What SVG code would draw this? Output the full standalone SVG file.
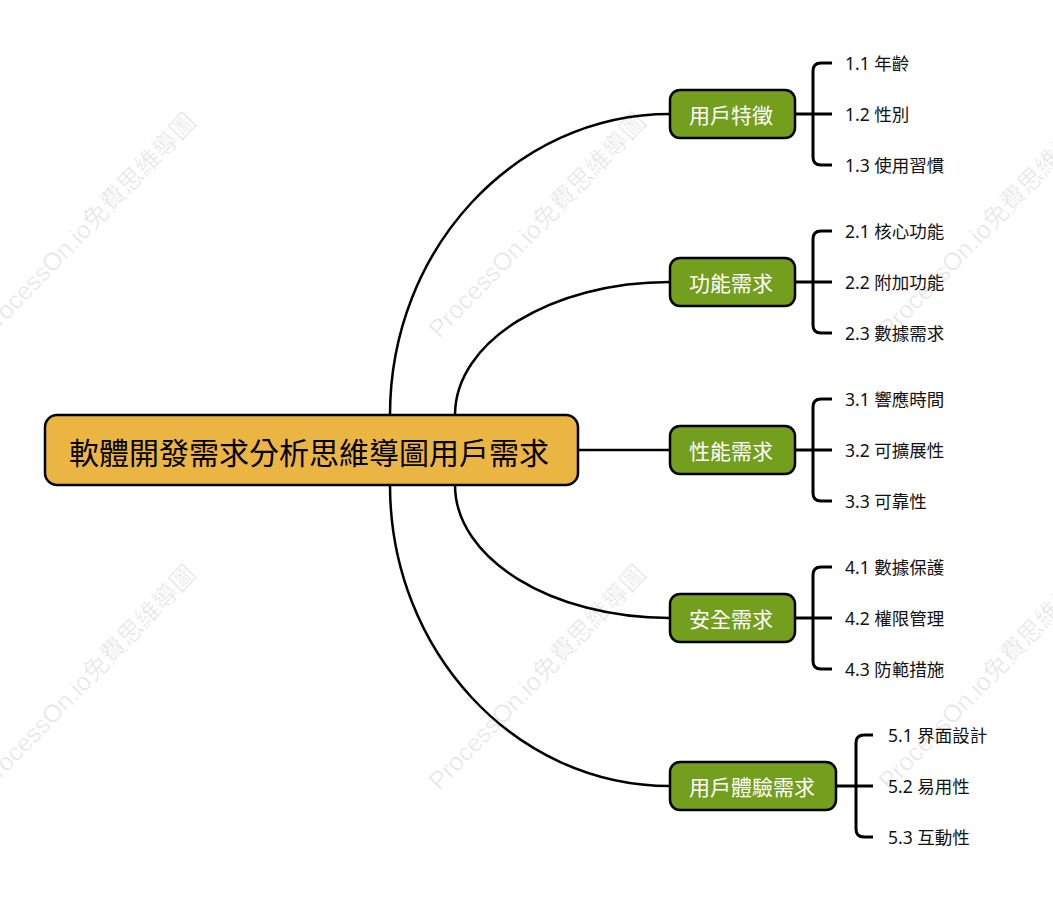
<svg xmlns="http://www.w3.org/2000/svg" width="1053" height="915" viewBox="0 0 1053 915">
<style>
.wm{font-family:"Liberation Sans","Noto Sans CJK TC",sans-serif;font-size:25px;fill:#000;fill-opacity:0.09;text-anchor:middle;dominant-baseline:central}
.conn{fill:none;stroke:#000;stroke-width:2.5}
.br{fill:none;stroke:#000;stroke-width:3}
.root{fill:#EBB544;stroke:#000;stroke-width:2.5}
.mid{fill:#739E1E;stroke:#000;stroke-width:2.5}
.rt{font-family:"Noto Sans CJK TC","Noto Sans",sans-serif;font-size:30px;fill:#000;text-anchor:middle;dominant-baseline:central}
.mt{font-family:"Noto Sans CJK TC","Noto Sans",sans-serif;font-size:21px;fill:#fff;text-anchor:middle;dominant-baseline:central}
.ct{font-family:"Noto Sans","Noto Sans CJK TC",sans-serif;font-size:17.5px;fill:#111;dominant-baseline:central}
</style>
<rect width="1053" height="915" fill="#fff"/>
<g id="watermarks">
<text class="wm" x="87" y="225" transform="rotate(-46 87 225)">ProcessOn.io免費思維導圖</text>
<text class="wm" x="537" y="225" transform="rotate(-46 537 225)">ProcessOn.io免費思維導圖</text>
<text class="wm" x="987" y="225" transform="rotate(-46 987 225)">ProcessOn.io免費思維導圖</text>
<text class="wm" x="87" y="677" transform="rotate(-46 87 677)">ProcessOn.io免費思維導圖</text>
<text class="wm" x="537" y="677" transform="rotate(-46 537 677)">ProcessOn.io免費思維導圖</text>
<text class="wm" x="987" y="677" transform="rotate(-46 987 677)">ProcessOn.io免費思維導圖</text>
</g>
<g id="connectors">
<path class="conn" d="M390,415 C390,249 515,114 670,114"/>
<path class="conn" d="M455,415 C455,341.5 551,282 670,282"/>
<path class="conn" d="M578,450 H670"/>
<path class="conn" d="M455,485 C455,558.5 551,618 670,618"/>
<path class="conn" d="M390,485 C390,651 515,786 670,786"/>
<path class="br" d="M795,114 H832 M832,63 H821 Q813,63 813,71 V157 Q813,165 821,165 H832"/>
<path class="br" d="M795,282 H832 M832,231 H821 Q813,231 813,239 V325 Q813,333 821,333 H832"/>
<path class="br" d="M795,450 H832 M832,399 H821 Q813,399 813,407 V493 Q813,501 821,501 H832"/>
<path class="br" d="M795,618 H832 M832,567 H821 Q813,567 813,575 V661 Q813,669 821,669 H832"/>
<path class="br" d="M836,786 H873 M873,735 H864 Q856,735 856,743 V829 Q856,837 864,837 H873"/>
</g>
<g id="root">
<rect class="root" x="45" y="415" width="533" height="70" rx="12"/>
<text class="rt" x="309" y="451">軟體開發需求分析思維導圖用戶需求</text>
</g>
<g id="n1">
<rect class="mid" x="670" y="90" width="125" height="48" rx="10"/>
<text class="mt" x="731" y="114">用戶特徵</text>
</g>
<g id="n2">
<rect class="mid" x="670" y="258" width="125" height="48" rx="10"/>
<text class="mt" x="731" y="282">功能需求</text>
</g>
<g id="n3">
<rect class="mid" x="670" y="426" width="125" height="48" rx="10"/>
<text class="mt" x="731" y="450">性能需求</text>
</g>
<g id="n4">
<rect class="mid" x="670" y="594" width="125" height="48" rx="10"/>
<text class="mt" x="731" y="618">安全需求</text>
</g>
<g id="n5">
<rect class="mid" x="670" y="762" width="166" height="48" rx="10"/>
<text class="mt" x="752" y="786">用戶體驗需求</text>
</g>
<g id="c1-1"><text class="ct" x="845" y="63">1.1 年齡</text></g>
<g id="c1-2"><text class="ct" x="845" y="114">1.2 性別</text></g>
<g id="c1-3"><text class="ct" x="845" y="165">1.3 使用習慣</text></g>
<g id="c2-1"><text class="ct" x="845" y="231">2.1 核心功能</text></g>
<g id="c2-2"><text class="ct" x="845" y="282">2.2 附加功能</text></g>
<g id="c2-3"><text class="ct" x="845" y="333">2.3 數據需求</text></g>
<g id="c3-1"><text class="ct" x="845" y="399">3.1 響應時間</text></g>
<g id="c3-2"><text class="ct" x="845" y="450">3.2 可擴展性</text></g>
<g id="c3-3"><text class="ct" x="845" y="501">3.3 可靠性</text></g>
<g id="c4-1"><text class="ct" x="845" y="567">4.1 數據保護</text></g>
<g id="c4-2"><text class="ct" x="845" y="618">4.2 權限管理</text></g>
<g id="c4-3"><text class="ct" x="845" y="669">4.3 防範措施</text></g>
<g id="c5-1"><text class="ct" x="888" y="735">5.1 界面設計</text></g>
<g id="c5-2"><text class="ct" x="888" y="786">5.2 易用性</text></g>
<g id="c5-3"><text class="ct" x="888" y="837">5.3 互動性</text></g>
</svg>
